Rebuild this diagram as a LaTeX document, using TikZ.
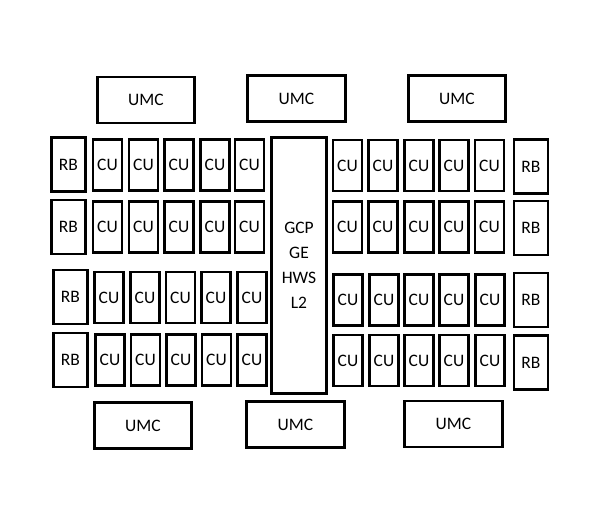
\documentclass[tikz,border=0pt]{standalone}
\usepackage{fontspec}
\setmainfont{Carlito}
\usepackage{tikz}
\tikzstyle{box}=[draw,line width=2.8pt,inner sep=0pt,font=\fontsize{17.5}{25}\selectfont]
\tikzstyle{cu}=[box,minimum width=29pt,minimum height=51pt]
\tikzstyle{rb}=[box,minimum width=34pt,minimum height=54pt]
\tikzstyle{umc}=[box,minimum width=97.5pt,minimum height=46pt]

\begin{document}
\begin{tikzpicture}[x=1pt,y=-1pt]
  \useasboundingbox (0,0) rectangle (600,525);
  % memory controllers
  \node [umc] (umcT1) at (146,100) {UMC};
  \node [umc] (umcT2) at (296.5,98.5) {UMC};
  \node [umc] (umcT3) at (457,98.5) {UMC};
  \node [umc] (umcB1) at (143,425.5) {UMC};
  \node [umc] (umcB2) at (295.5,424.5) {UMC};
  \node [umc] (umcB3) at (453.5,424) {UMC};
  % centre block
  \node [box,minimum width=54.5pt,minimum height=256pt,align=center]
    (gcp) at (299,265.5) {GCP\\GE\\HWS\\L2};
  % left half
  \node [rb] (rbL1) at (68.5,164.5) {RB};
  \node [cu] (cuL11) at (107.5,165) {CU};
  \node [cu] (cuL12) at (143.5,165) {CU};
  \node [cu] (cuL13) at (179,165) {CU};
  \node [cu] (cuL14) at (215,165) {CU};
  \node [cu] (cuL15) at (249.5,165) {CU};
  \node [rb] (rbL2) at (68.5,227) {RB};
  \node [cu] (cuL21) at (107.5,227) {CU};
  \node [cu] (cuL22) at (143.5,227) {CU};
  \node [cu] (cuL23) at (179,227) {CU};
  \node [cu] (cuL24) at (215,227) {CU};
  \node [cu] (cuL25) at (249.5,227) {CU};
  \node [rb] (rbL3) at (70.5,297) {RB};
  \node [cu] (cuL31) at (109,297.5) {CU};
  \node [cu] (cuL32) at (145,297.5) {CU};
  \node [cu] (cuL33) at (180.5,297.5) {CU};
  \node [cu] (cuL34) at (216,297.5) {CU};
  \node [cu] (cuL35) at (252,297.5) {CU};
  \node [rb] (rbL4) at (70.5,360) {RB};
  \node [cu] (cuL41) at (110,360) {CU};
  \node [cu] (cuL42) at (145.5,360) {CU};
  \node [cu] (cuL43) at (181,360) {CU};
  \node [cu] (cuL44) at (216.5,360) {CU};
  \node [cu] (cuL45) at (252,360) {CU};
  % right half
  \node [cu] (cuR11) at (347.5,165.5) {CU};
  \node [cu] (cuR12) at (383,165.5) {CU};
  \node [cu] (cuR13) at (419,165.5) {CU};
  \node [cu] (cuR14) at (454,165.5) {CU};
  \node [cu] (cuR15) at (489.5,165.5) {CU};
  \node [rb] (rbR1) at (531,166.5) {RB};
  \node [cu] (cuR21) at (347.5,227) {CU};
  \node [cu] (cuR22) at (383,227) {CU};
  \node [cu] (cuR23) at (419,227) {CU};
  \node [cu] (cuR24) at (454,227) {CU};
  \node [cu] (cuR25) at (489.5,227) {CU};
  \node [rb] (rbR2) at (531,228) {RB};
  \node [cu] (cuR31) at (348,300) {CU};
  \node [cu] (cuR32) at (384,300) {CU};
  \node [cu] (cuR33) at (419,300) {CU};
  \node [cu] (cuR34) at (454,300) {CU};
  \node [cu] (cuR35) at (490,300) {CU};
  \node [rb] (rbR3) at (531,300) {RB};
  \node [cu] (cuR41) at (348,360.5) {CU};
  \node [cu] (cuR42) at (384,360.5) {CU};
  \node [cu] (cuR43) at (419,360.5) {CU};
  \node [cu] (cuR44) at (454,360.5) {CU};
  \node [cu] (cuR45) at (490,360.5) {CU};
  \node [rb] (rbR4) at (531,362.5) {RB};
\end{tikzpicture}
\end{document}
